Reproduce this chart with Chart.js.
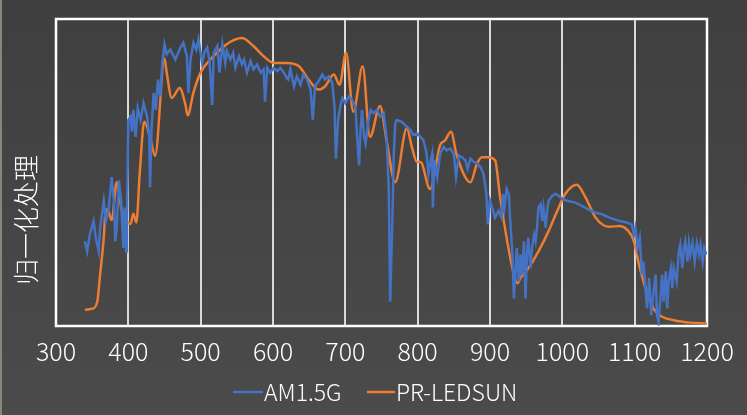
<!DOCTYPE html>
<html>
<head>
<meta charset="utf-8">
<script src="https://cdn.jsdelivr.net/npm/chart.js@4/dist/chart.umd.min.js"></script>
<style>
  html, body { margin: 0; padding: 0; }
  body {
    width: 747px; height: 415px; overflow: hidden;
    background: linear-gradient(#3f3f3f, #4b4b4b);
  }
  #wrap { position: relative; width: 745px; height: 415px; border-left: 2px solid #8c847a; }
</style>
</head>
<body>
<div id="wrap"><canvas id="chart" width="745" height="415"></canvas></div>
<script>
// AM1.5G 标准太阳光谱（归一化）
const amWavelengths = [
  340, 343, 347, 352, 355, 359, 361, 366, 369, 373, 377, 380, 382, 384, 387, 390, 393, 395, 397, 398,
  400, 403, 405, 407, 410, 413, 417, 421, 426, 429, 430, 432, 435, 438, 441, 444, 447, 450, 453, 458,
  465, 472, 476, 481, 483, 486, 490, 494, 497, 502, 505, 509, 512, 516, 518, 523, 526, 530, 534, 536,
  541, 545, 548, 553, 557, 560, 564, 569, 573, 578, 583, 587, 589, 592, 596, 601, 606, 610, 615, 619,
  621, 624, 629, 633, 638, 642, 647, 652, 655, 658, 663, 668, 672, 677, 682, 685, 687, 690, 693, 696,
  700, 705, 709, 714, 716, 719, 721, 723, 726, 728, 732, 735, 739, 744, 748, 753, 757, 760, 762, 765,
  767, 769, 771, 778, 785, 790, 794, 799, 804, 808, 812, 815, 818, 820, 821, 823, 827, 831, 836, 840,
  845, 850, 853, 857, 861, 866, 869, 873, 878, 882, 887, 891, 895, 897, 900, 903, 907, 912, 916, 918,
  920, 923, 926, 928, 931, 933, 935, 937, 940, 942, 944, 947, 949, 951, 953, 956, 958, 961, 963, 965,
  967, 970, 972, 974, 977, 979, 981, 986, 991, 995, 1000, 1007, 1018, 1027, 1036, 1046, 1055, 1065, 1079, 1089,
  1096, 1099, 1101, 1104, 1107, 1110, 1112, 1115, 1117, 1120, 1123, 1126, 1129, 1131, 1133, 1136, 1138, 1140, 1143, 1145,
  1147, 1150, 1152, 1154, 1158, 1161, 1163, 1166, 1168, 1170, 1173, 1175, 1177, 1180, 1183, 1186, 1189, 1191, 1194, 1196,
  1199
];
const amValues = [
  0.276, 0.243, 0.300, 0.342, 0.287, 0.243, 0.320, 0.408, 0.342, 0.386, 0.485, 0.408, 0.276, 0.320, 0.474, 0.408, 0.254, 0.386, 0.243, 0.342,
  0.671, 0.682, 0.633, 0.704, 0.616, 0.710, 0.671, 0.726, 0.682, 0.616, 0.452, 0.638, 0.759, 0.704, 0.803, 0.748, 0.857, 0.918, 0.885, 0.901,
  0.868, 0.907, 0.923, 0.879, 0.759, 0.868, 0.923, 0.900, 0.934, 0.857, 0.890, 0.907, 0.868, 0.720, 0.890, 0.912, 0.825, 0.918, 0.857, 0.896,
  0.868, 0.890, 0.841, 0.879, 0.852, 0.868, 0.825, 0.863, 0.836, 0.852, 0.825, 0.836, 0.731, 0.841, 0.825, 0.841, 0.830, 0.841, 0.825, 0.808,
  0.803, 0.836, 0.780, 0.813, 0.786, 0.819, 0.803, 0.770, 0.671, 0.780, 0.797, 0.819, 0.803, 0.813, 0.792, 0.715, 0.545, 0.671, 0.715, 0.742,
  0.726, 0.748, 0.737, 0.715, 0.627, 0.523, 0.638, 0.704, 0.616, 0.594, 0.671, 0.704, 0.693, 0.704, 0.682, 0.693, 0.616, 0.452, 0.079, 0.342,
  0.561, 0.660, 0.671, 0.665, 0.649, 0.638, 0.622, 0.627, 0.616, 0.605, 0.567, 0.496, 0.540, 0.561, 0.386, 0.540, 0.485, 0.561, 0.583, 0.572,
  0.578, 0.561, 0.485, 0.556, 0.550, 0.540, 0.512, 0.545, 0.534, 0.529, 0.517, 0.496, 0.430, 0.331, 0.408, 0.386, 0.353, 0.375, 0.353, 0.430,
  0.386, 0.446, 0.430, 0.342, 0.233, 0.090, 0.167, 0.254, 0.145, 0.233, 0.167, 0.276, 0.090, 0.233, 0.287, 0.188, 0.254, 0.298, 0.276, 0.320,
  0.386, 0.397, 0.342, 0.386, 0.320, 0.375, 0.408, 0.424, 0.430, 0.424, 0.413, 0.408, 0.402, 0.391, 0.380, 0.369, 0.364, 0.353, 0.342, 0.337,
  0.331, 0.298, 0.320, 0.254, 0.287, 0.167, 0.210, 0.123, 0.057, 0.156, 0.035, 0.112, 0.167, 0.035, 0.013, 0.101, 0.167, 0.079, 0.178, 0.057,
  0.145, 0.188, 0.123, 0.188, 0.145, 0.243, 0.265, 0.188, 0.254, 0.276, 0.210, 0.270, 0.233, 0.270, 0.210, 0.270, 0.233, 0.265, 0.210, 0.254,
  0.233
];

// PR-LEDSUN 光谱（归一化）
const ledWavelengths = [
  340, 350, 357, 361, 366, 368, 371, 377, 384, 391, 398, 403, 407, 411, 416, 422, 430, 437, 450, 453,
  460, 471, 479, 482, 490, 500, 518, 536, 557, 573, 587, 601, 619, 636, 649, 663, 672, 684, 692, 701,
  711, 724, 734, 748, 757, 769, 785, 792, 799, 804, 817, 831, 838, 846, 854, 873, 882, 889, 898, 907,
  914, 923, 932, 938, 942, 953, 967, 981, 993, 1004, 1020, 1032, 1046, 1057, 1065, 1079, 1089, 1099, 1105, 1115,
  1126, 1138, 1154, 1177, 1200
];
const ledValues = [
  0.053, 0.056, 0.079, 0.168, 0.287, 0.360, 0.380, 0.345, 0.468, 0.375, 0.342, 0.332, 0.366, 0.337, 0.507, 0.665, 0.616, 0.554, 0.871, 0.826,
  0.743, 0.775, 0.720, 0.686, 0.760, 0.826, 0.879, 0.918, 0.938, 0.912, 0.879, 0.857, 0.857, 0.846, 0.803, 0.770, 0.781, 0.819, 0.786, 0.890,
  0.698, 0.846, 0.616, 0.717, 0.605, 0.468, 0.644, 0.583, 0.534, 0.534, 0.446, 0.589, 0.605, 0.633, 0.556, 0.468, 0.529, 0.550, 0.550, 0.540,
  0.419, 0.287, 0.178, 0.139, 0.156, 0.188, 0.243, 0.309, 0.375, 0.430, 0.460, 0.419, 0.353, 0.328, 0.323, 0.326, 0.315, 0.276, 0.210, 0.123,
  0.057, 0.030, 0.019, 0.011, 0.008
];

const seriesNames = ['AM1.5G', 'PR-LEDSUN'];
const seriesColors = ['#4472C4', '#ED7D31'];
const xTickValues = [300, 400, 500, 600, 700, 800, 900, 1000, 1100, 1200];
const yTitle = '归一化处理';

const FONT = '"Noto Sans CJK SC", "Noto Sans", sans-serif';

const toPoints = (xs, ys) => xs.map((x, i) => ({ x: x, y: ys[i] }));

// 绘图区边框 + 纵轴标题 + 图例
const decorPlugin = {
  id: 'decor',
  beforeDatasetsDraw(chart) {
    const { ctx, chartArea: a } = chart;
    ctx.save();
    ctx.strokeStyle = '#ffffff';
    ctx.lineWidth = 2.5;
    ctx.strokeRect(a.left, a.top, a.right - a.left, a.bottom - a.top);
    ctx.restore();
  },
  afterDraw(chart) {
    const { ctx } = chart;
    ctx.save();
    ctx.fillStyle = '#ffffff';
    ctx.font = '300 26px ' + FONT;
    ctx.textAlign = 'center';
    ctx.textBaseline = 'middle';
    ctx.translate(24, 220);
    ctx.rotate(-Math.PI / 2);
    ctx.fillText(yTitle, 0, 0);
    ctx.restore();

    // 图例
    const legendY = 392;
    const items = [
      { x0: 231, x1: 261, tx: 262 },
      { x0: 365, x1: 393, tx: 394 }
    ];
    ctx.save();
    ctx.font = '300 23px ' + FONT;
    ctx.textBaseline = 'middle';
    ctx.textAlign = 'left';
    items.forEach((it, i) => {
      ctx.strokeStyle = seriesColors[i];
      ctx.lineWidth = 2.5;
      ctx.beginPath();
      ctx.moveTo(it.x0, legendY);
      ctx.lineTo(it.x1, legendY);
      ctx.stroke();
      ctx.fillStyle = '#ffffff';
      ctx.fillText(seriesNames[i], it.tx, legendY);
    });
    ctx.restore();
  }
};

new Chart(document.getElementById('chart'), {
  type: 'line',
  data: {
    datasets: [
      {
        label: seriesNames[0],
        data: toPoints(amWavelengths, amValues),
        borderColor: seriesColors[0],
        borderWidth: 2.5,
        pointRadius: 0,
        tension: 0
      },
      {
        label: seriesNames[1],
        data: toPoints(ledWavelengths, ledValues),
        borderColor: seriesColors[1],
        borderWidth: 2.5,
        pointRadius: 0,
        cubicInterpolationMode: 'monotone'
      }
    ]
  },
  options: {
    responsive: false,
    animation: false,
    layout: { padding: { left: 54, right: 40, top: 19, bottom: 39 } },
    scales: {
      x: {
        type: 'linear',
        min: 300,
        max: 1200,
        afterBuildTicks: (scale) => { scale.ticks = xTickValues.map(v => ({ value: v })); },
        ticks: {
          color: '#ffffff',
          font: { family: FONT, size: 25, weight: '300' },
          padding: 10,
          maxRotation: 0,
          autoSkip: false,
          callback: (v) => String(v)
        },
        grid: { color: '#d9d9d9', lineWidth: 2, drawTicks: false },
        border: { display: false }
      },
      y: { display: false, min: 0, max: 1 }
    },
    plugins: {
      legend: { display: false },
      tooltip: { enabled: false }
    }
  },
  plugins: [decorPlugin]
});
</script>
</body>
</html>
